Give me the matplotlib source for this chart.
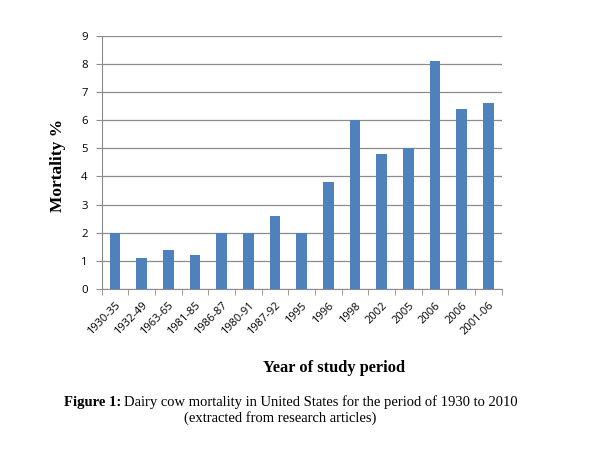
import matplotlib
matplotlib.use("Agg")
import matplotlib.pyplot as plt
import numpy as np

categories = ["1930-35", "1932-49", "1963-65", "1981-85", "1986-87", "1980-91",
              "1987-92", "1995", "1996", "1998", "2002", "2005", "2006", "2006", "2001-06"]
mortality = [2.0, 1.1, 1.4, 1.2, 2.0, 2.0, 2.6, 2.0, 3.8, 6.0, 4.8, 5.0, 8.1, 6.4, 6.6]
yticks = list(range(0, 10))

W, H = 590, 458
fig = plt.figure(figsize=(W / 100, H / 100), dpi=100)
fig.patch.set_facecolor("white")

left, right, top, bottom = 101.7, 501.7, 35.7, 289.0
ax = fig.add_axes([left / W, 1 - bottom / H, (right - left) / W, (bottom - top) / H])

x = np.arange(len(categories))
ax.bar(x, mortality, width=0.4, color="#4F81BD", zorder=3)
ax.set_xlim(-0.5, len(categories) - 0.5)
ax.set_ylim(0, 9)
ax.set_yticks(yticks)
ax.yaxis.grid(True, color="#8C8C8C", linewidth=0.9, zorder=0)

for s in ["top", "right"]:
    ax.spines[s].set_visible(False)
ax.spines["left"].set_color("#8C8C8C")
ax.spines["bottom"].set_color("#8C8C8C")

ax.set_xticks(x)
ax.set_xticklabels(categories, rotation=45, ha="right", rotation_mode="anchor",
                   fontsize=8, family="Open Sans")
ax.tick_params(axis="x", which="major", length=0, pad=8)
ax.set_xticks(np.arange(-0.5, len(categories), 1.0), minor=True)
ax.tick_params(axis="x", which="minor", length=4, color="#8C8C8C", direction="out")
ax.tick_params(axis="y", length=4, color="#8C8C8C", labelsize=8.2, pad=6)
for lab in ax.get_yticklabels():
    lab.set_family("Open Sans")

fig.text(58 / W, 1 - 165 / H, "Mortality %", rotation=90, ha="center", va="center",
         family="Liberation Serif", fontweight="bold", fontsize=12.5)
fig.text(334 / W, 1 - 368 / H, "Year of study period", ha="center", va="center",
         family="Liberation Serif", fontweight="bold", fontsize=11.8)

# caption
fig.canvas.draw()
r = fig.canvas.get_renderer()
t1 = fig.text(64 / W, 1 - 406 / H, "Figure 1:", ha="left", va="baseline",
              family="Liberation Serif", fontweight="bold", fontsize=10.5)
bb = t1.get_window_extent(renderer=r)
fig.text((bb.x1 + 3) / W, 1 - 406 / H,
         "Dairy cow mortality in United States for the period of 1930 to 2010",
         ha="left", va="baseline", family="Liberation Serif", fontsize=10.5)
fig.text(280 / W, 1 - 422 / H, "(extracted from research articles)", ha="center",
         va="baseline", family="Liberation Serif", fontsize=10.5)

fig.savefig("out.png", dpi=100)
